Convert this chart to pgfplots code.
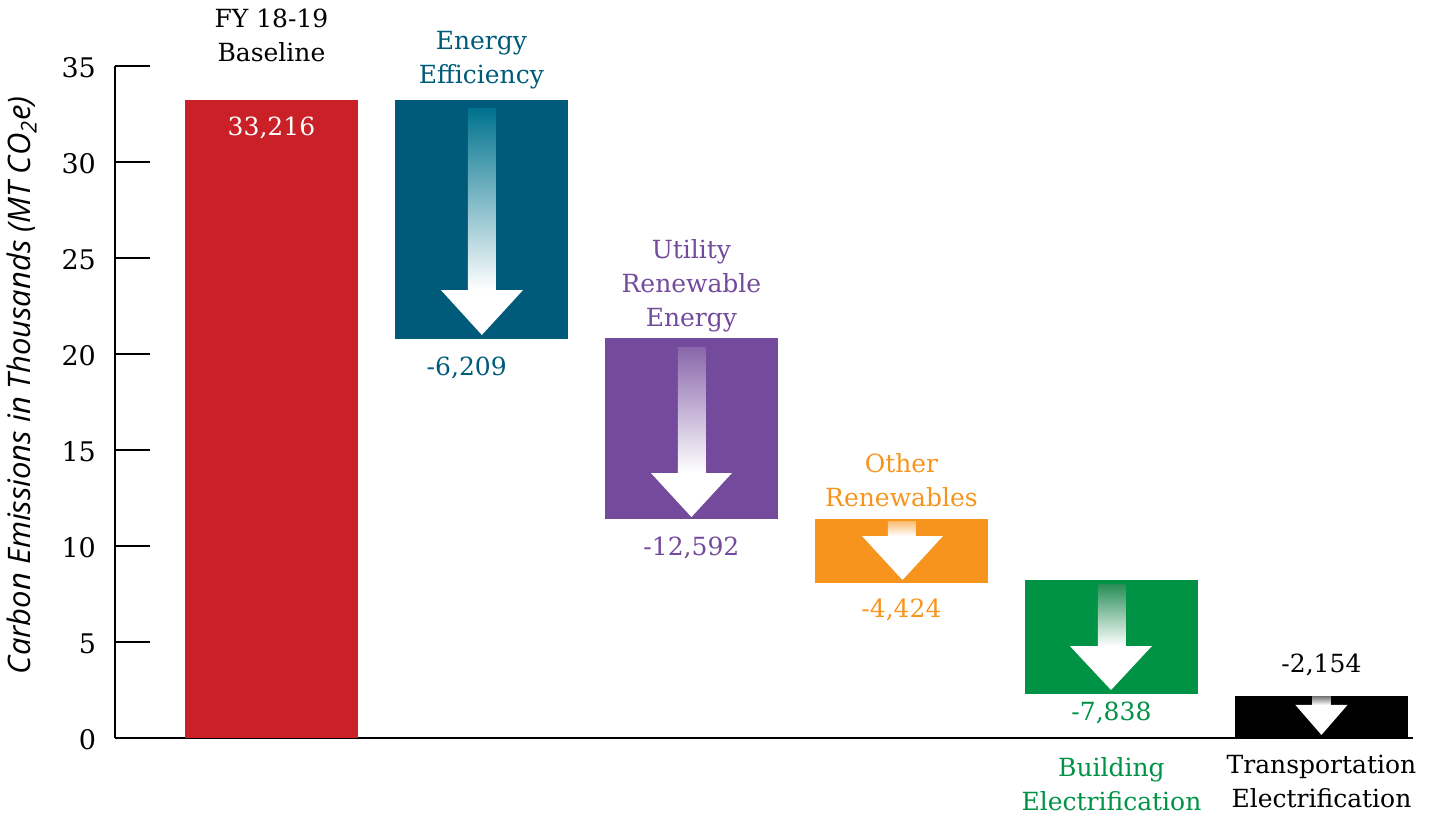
\documentclass[border=0pt]{standalone}
\usepackage{pgfplots}
\pgfplotsset{compat=1.18}
\usepackage{fontspec}
\setmainfont{DejaVu Serif}
\newfontfamily\labfont{Open Sans}
\usetikzlibrary{calc}
\definecolor{cRed}{RGB}{201,33,39}
\definecolor{cTeal}{RGB}{0,90,122}
\definecolor{cPurple}{RGB}{116,75,156}
\definecolor{cOrange}{RGB}{247,148,30}
\definecolor{cGreen}{RGB}{0,147,69}
\newcommand{\lbl}{\fontsize{12.5}{17}\selectfont}
\begin{document}
\begin{tikzpicture}
\begin{axis}[
  name=ax,
  scale only axis,
  width=649pt, height=336pt,
  xmin=-0.745, xmax=5.436, ymin=0, ymax=35,
  axis lines=left,
  axis line style={-, line width=1pt, black},
  xtick=\empty,
  ytick={0,5,...,35},
  tick align=inside,
  major tick length=17.5pt,
  ytick style={line width=1pt, black},
  /pgf/number format/assume math mode=true,
  yticklabel style={font=\fontsize{13.5}{15}\selectfont, xshift=-6pt, yshift=-1pt},
  ylabel={\labfont\itshape Carbon Emissions in Thousands (MT CO\textsubscript{2}e)},
  every axis y label/.style={at={(axis description cs:0,0.525)}, xshift=-46.5pt, rotate=90, anchor=center, font=\fontsize{15.5}{17}\selectfont},
  clip=false,
]
% bars (x from centre -/+ 0.412, low, high)
\addplot[fill=cRed, draw=none] coordinates {(-0.412,0) (0.412,0) (0.412,33.216) (-0.412,33.216)} -- cycle;
\addplot[fill=cTeal, draw=none] coordinates {(0.588,20.78) (1.412,20.78) (1.412,33.216) (0.588,33.216)} -- cycle;
\addplot[fill=cPurple, draw=none] coordinates {(1.588,11.41) (2.412,11.41) (2.412,20.83) (1.588,20.83)} -- cycle;
\addplot[fill=cOrange, draw=none] coordinates {(2.588,8.07) (3.412,8.07) (3.412,11.41) (2.588,11.41)} -- cycle;
\addplot[fill=cGreen, draw=none] coordinates {(3.588,2.29) (4.412,2.29) (4.412,8.23) (3.588,8.23)} -- cycle;
\addplot[fill=black, draw=none] coordinates {(4.588,0) (5.412,0) (5.412,2.19) (4.588,2.19)} -- cycle;
% arrow shafts
\addplot[draw=none, top color=cTeal!85!cyan, bottom color=white] coordinates {(0.935,32.76) (1.068,32.76) (1.068,23.33) (0.935,23.33)} -- cycle;
\addplot[draw=none, top color=cPurple!85!white, bottom color=white] coordinates {(1.935,20.36) (2.068,20.36) (2.068,13.80) (1.935,13.80)} -- cycle;
\addplot[draw=none, top color=cOrange!60!white, bottom color=white] coordinates {(2.935,11.25) (3.068,11.25) (3.068,10.52) (2.935,10.52)} -- cycle;
\addplot[draw=none, top color=cGreen!70!gray, bottom color=white] coordinates {(3.935,8.02) (4.068,8.02) (4.068,4.79) (3.935,4.79)} -- cycle;
\addplot[draw=none, top color=gray, bottom color=white] coordinates {(4.955,2.14) (5.045,2.14) (5.045,1.72) (4.955,1.72)} -- cycle;
% arrow heads
\addplot[fill=white, draw=none] coordinates {(0.807,23.33) (1.198,23.33) (1.002,20.99)} -- cycle;
\addplot[fill=white, draw=none] coordinates {(1.807,13.80) (2.193,13.80) (2.000,11.51)} -- cycle;
\addplot[fill=white, draw=none] coordinates {(2.812,10.52) (3.198,10.52) (3.005,8.23)} -- cycle;
\addplot[fill=white, draw=none] coordinates {(3.802,4.79) (4.193,4.79) (3.998,2.50)} -- cycle;
\addplot[fill=white, draw=none] coordinates {(4.876,1.72) (5.124,1.72) (5.000,0.16)} -- cycle;
% labels
\node[align=center, font=\lbl] at (axis cs:0,36.61) {FY 18-19\\Baseline};
\node[align=center, font=\lbl, text=white] at (axis cs:0,31.77) {33,216};
\node[align=center, font=\lbl, text=cTeal] at (axis cs:1,35.31) {Energy\\Efficiency};
\node[align=center, font=\lbl, text=cTeal] at (axis cs:0.93,19.27) {-6,209};
\node[align=center, font=\lbl, text=cPurple] at (axis cs:2,23.54) {Utility\\Renewable\\Energy};
\node[align=center, font=\lbl, text=cPurple] at (axis cs:2,9.9) {-12,592};
\node[align=center, font=\lbl, text=cOrange] at (axis cs:3,13.44) {Other\\Renewables};
\node[align=center, font=\lbl, text=cOrange] at (axis cs:3,6.67) {-4,424};
\node[align=center, font=\lbl, text=cGreen] at (axis cs:4,1.30) {-7,838};
\node[align=center, font=\lbl, text=cGreen] at (axis cs:4,-2.40) {Building\\Electrification};
\node[align=center, font=\lbl] at (axis cs:5,3.80) {-2,154};
\node[align=center, font=\lbl] at (axis cs:5,-2.29) {Transportation\\Electrification};
\end{axis}
\pgfresetboundingbox
\useasboundingbox ($(ax.south west)+(-57.5pt,-38.5pt)$) rectangle ($(ax.north east)+(10pt,33pt)$);
\end{tikzpicture}
\end{document}
